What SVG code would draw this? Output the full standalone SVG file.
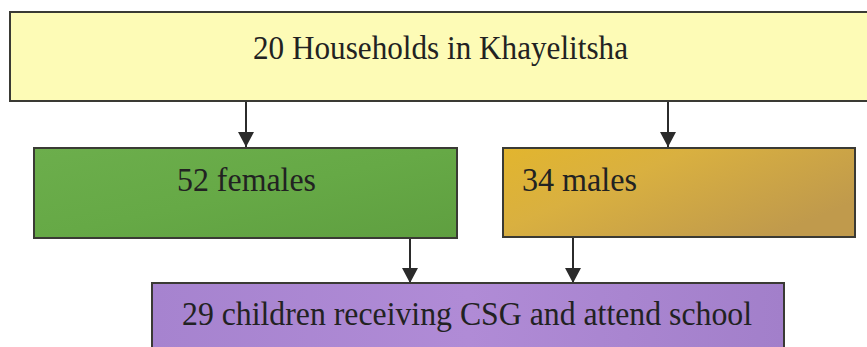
<svg xmlns="http://www.w3.org/2000/svg" width="867" height="347" viewBox="0 0 867 347">
<defs>
<style>
.box{stroke:#3a3a34;stroke-width:2}
.t{font-family:"Liberation Serif","Times New Roman",serif;font-size:34px;fill:#222}
.c{stroke:#2b2b2b;stroke-width:2;fill:none}
</style>
<linearGradient id="gGreen" x1="0" y1="0" x2="1" y2="1">
<stop offset="0" stop-color="#6cae4c"/>
<stop offset="0.5" stop-color="#66a946"/>
<stop offset="1" stop-color="#5f9f40"/>
</linearGradient>
<linearGradient id="gGold" x1="0" y1="0" x2="1" y2="0.6">
<stop offset="0" stop-color="#e2b52e"/>
<stop offset="0.4" stop-color="#d9b040"/>
<stop offset="1" stop-color="#c09a4c"/>
</linearGradient>
<linearGradient id="gPurple" x1="0" y1="0" x2="1" y2="0">
<stop offset="0" stop-color="#a683cf"/>
<stop offset="0.5" stop-color="#b08bd6"/>
<stop offset="1" stop-color="#a27fca"/>
</linearGradient>
<marker id="arr" viewBox="0 0 15 16" refX="15" refY="8" markerWidth="15" markerHeight="16" markerUnits="userSpaceOnUse" orient="auto">
<path d="M0,0 L15,8 L0,16 Z" fill="#2b2b2b"/>
</marker>
</defs>
<g id="connectors">
<line class="c" x1="246" y1="101" x2="246" y2="147" marker-end="url(#arr)"/>
<line class="c" x1="668" y1="101" x2="668" y2="147" marker-end="url(#arr)"/>
<line class="c" x1="410" y1="238" x2="410" y2="283" marker-end="url(#arr)"/>
<line class="c" x1="573" y1="238" x2="573" y2="283" marker-end="url(#arr)"/>
</g>
<g id="households">
<rect class="box" x="10" y="12" width="870" height="89" fill="#fdfbb6"/>
<text class="t" x="253" y="59" textLength="375" lengthAdjust="spacingAndGlyphs">20 Households in Khayelitsha</text>
</g>
<g id="females">
<rect class="box" x="34" y="148" width="423" height="90" fill="url(#gGreen)"/>
<text class="t" x="177" y="191" textLength="139" lengthAdjust="spacingAndGlyphs">52 females</text>
</g>
<g id="males">
<rect class="box" x="503" y="148" width="352" height="89" fill="url(#gGold)"/>
<text class="t" x="522" y="191" textLength="115" lengthAdjust="spacingAndGlyphs">34 males</text>
</g>
<g id="children">
<rect class="box" x="152" y="283" width="632" height="80" fill="url(#gPurple)"/>
<text class="t" x="182" y="325" textLength="570" lengthAdjust="spacingAndGlyphs">29 children receiving CSG and attend school</text>
</g>
</svg>
